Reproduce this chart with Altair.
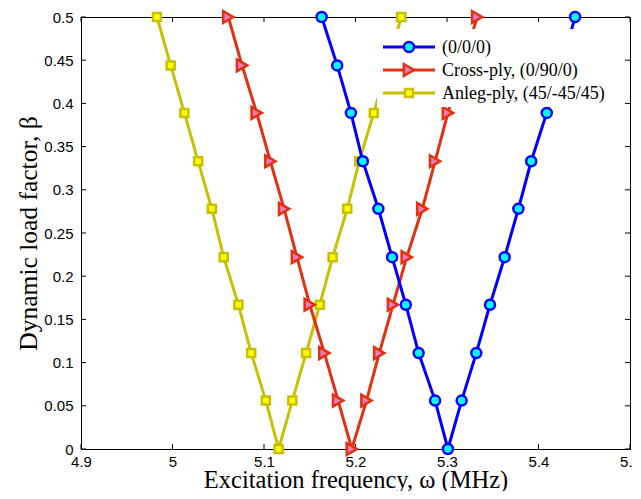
import altair as alt
import pandas as pd

# ---------------- data ----------------
Y_LEVELS = [0.5, 0.444, 0.389, 0.333, 0.278, 0.222, 0.167, 0.111, 0.056, 0.0,
            0.056, 0.111, 0.167, 0.222, 0.278, 0.333, 0.389, 0.444, 0.5]

X_000 = [5.163, 5.180, 5.195, 5.208, 5.225, 5.240, 5.255, 5.269, 5.287, 5.301,
         5.316, 5.332, 5.347, 5.363, 5.378, 5.392, 5.409, 5.425, 5.440]
X_CROSS = [5.061, 5.076, 5.092, 5.107, 5.122, 5.136, 5.150, 5.166, 5.181, 5.196,
           5.212, 5.226, 5.241, 5.256, 5.273, 5.287, 5.301, 5.317, 5.333]
X_ANGLE = [4.983, 4.998, 5.013, 5.028, 5.043, 5.056, 5.072, 5.086, 5.102, 5.116,
           5.131, 5.146, 5.161, 5.175, 5.191, 5.204, 5.220, 5.235, 5.250]

LABELS = ["(0/0/0)", "Cross-ply, (0/90/0)", "Anleg-ply, (45/-45/45)"]
X_TICKS = [4.9, 5.0, 5.1, 5.2, 5.3, 5.4, 5.5]
Y_TICKS = [0, 0.05, 0.1, 0.15, 0.2, 0.25, 0.3, 0.35, 0.4, 0.45, 0.5]

# ---------------- styling ----------------
W, H = 549, 432
STYLES = [
    dict(line="#0000ff", fill="#00ffff", shape="circle", size=100),
    dict(line="#e3300e", fill="#f07cb8", shape="triangle-right", size=140),
    dict(line="#c8c000", fill="#ffff00", shape="square", size=64),
]
SERIES_X = [X_000, X_CROSS, X_ANGLE]

x_scale = alt.Scale(domain=[4.9, 5.5], nice=False, zero=False)
y_scale = alt.Scale(domain=[0, 0.5], nice=False, zero=False)

AX_X = alt.Axis(values=X_TICKS, format="~g", title="Excitation frequency, ω (MHz)",
                labelPadding=5, labelFlush=False, labelOverlap=False,
                titleX=W / 2, titleY=38, titleBaseline="alphabetic", titleAlign="center",
                titleFontSize=24.5)
AX_Y = alt.Axis(values=Y_TICKS, format="~g", title="Dynamic load factor, β",
                labelPadding=8, labelFlush=False, labelOverlap=False,
                titleX=-45, titleY=H / 2, titleBaseline="alphabetic", titleAlign="center",
                titleAngle=270)


def xenc(f):
    return alt.X(f, type="quantitative", scale=x_scale, axis=AX_X)


def yenc(f):
    return alt.Y(f, type="quantitative", scale=y_scale, axis=AX_Y)


layers = []

# inward ticks on all four sides
xt = pd.DataFrame({"v": X_TICKS})
yt = pd.DataFrame({"v": Y_TICKS})
layers.append(alt.Chart(xt).mark_rule(color="black", strokeWidth=1).encode(
    x=xenc("v"), y=alt.value(H), y2=alt.value(H - 5)))
layers.append(alt.Chart(xt).mark_rule(color="black", strokeWidth=1).encode(
    x=xenc("v"), y=alt.value(0), y2=alt.value(5)))
layers.append(alt.Chart(yt).mark_rule(color="black", strokeWidth=1).encode(
    y=yenc("v"), x=alt.value(0), x2=alt.value(5)))
layers.append(alt.Chart(yt).mark_rule(color="black", strokeWidth=1).encode(
    y=yenc("v"), x=alt.value(W), x2=alt.value(W - 5)))

# series: drawn yellow, red, blue (blue on top)
for k in [2, 1, 0]:
    st = STYLES[k]
    df = pd.DataFrame({"x": SERIES_X[k], "y": Y_LEVELS, "i": list(range(len(Y_LEVELS)))})
    layers.append(alt.Chart(df).mark_line(color=st["line"], strokeWidth=3).encode(
        x=xenc("x"), y=yenc("y"), order=alt.Order("i:Q")))
    layers.append(alt.Chart(df).mark_point(
        shape=st["shape"], size=st["size"], filled=True, fill=st["fill"],
        stroke=st["line"], strokeWidth=2.5, opacity=1).encode(x=xenc("x"), y=yenc("y")))

# legend (white box, sample lines, markers, labels)
dummy = pd.DataFrame({"k": [0]})
layers.append(alt.Chart(dummy).mark_rect(fill="white", stroke=None).encode(
    x=alt.value(296), x2=alt.value(536), y=alt.value(12), y2=alt.value(90)))
for k in range(3):
    st = STYLES[k]
    ry = 30 + 23 * k
    layers.append(alt.Chart(dummy).mark_rule(color=st["line"], strokeWidth=3).encode(
        x=alt.value(302), x2=alt.value(354), y=alt.value(ry)))
    layers.append(alt.Chart(dummy).mark_point(
        shape=st["shape"], size=st["size"], filled=True, fill=st["fill"],
        stroke=st["line"], strokeWidth=2.5, opacity=1).encode(
        x=alt.value(328), y=alt.value(ry)))
    layers.append(alt.Chart(dummy).mark_text(
        text=LABELS[k], align="left", baseline="middle", font="Liberation Serif",
        fontSize=18, color="black").encode(x=alt.value(361), y=alt.value(ry + 1)))

chart = alt.layer(*layers).properties(
    width=W, height=H,
    autosize=alt.AutoSizeParams(type="none"),
    padding={"left": 73, "top": 9, "right": 3, "bottom": 42},
    background="white",
).configure_axis(
    grid=False, domain=False, ticks=False,
    labelFont="Liberation Sans", labelFontSize=15, labelColor="black",
    titleFont="Liberation Serif", titleFontSize=25.5, titleFontWeight="normal",
    titleColor="black",
).configure_view(stroke="black", strokeWidth=1)

chart.save("out.html", embed_options={"renderer": "svg", "actions": False})
